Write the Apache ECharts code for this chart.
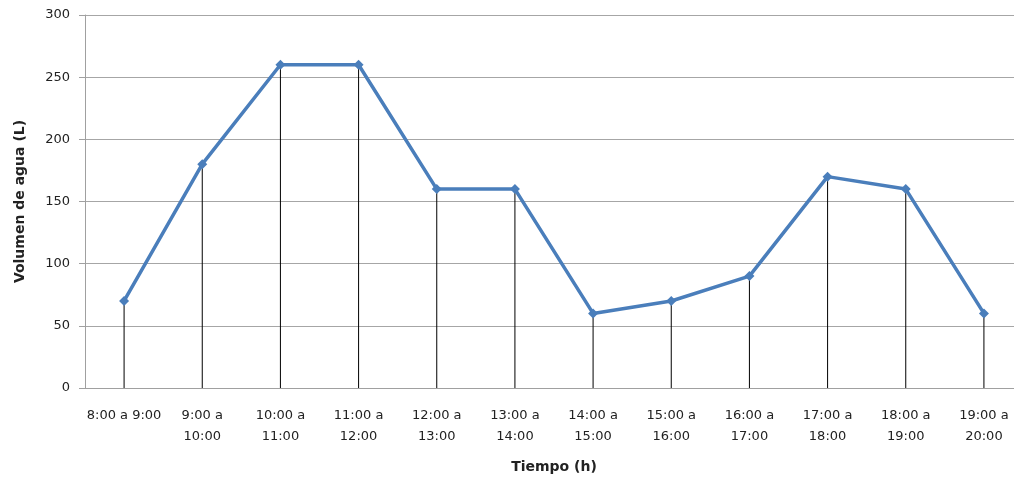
<!DOCTYPE html>
<html>
<head>
<meta charset="utf-8">
<script src="https://cdn.jsdelivr.net/npm/echarts@6/dist/echarts.min.js"></script>
<style>html,body{margin:0;padding:0;background:#fff;overflow:hidden;width:1014px;height:483px;}#c{width:1040px;height:483px;}</style>
</head>
<body>
<div id="c"></div>
<script>
const categories = ['8:00 a 9:00','9:00 a\n10:00','10:00 a\n11:00','11:00 a\n12:00','12:00 a\n13:00','13:00 a\n14:00','14:00 a\n15:00','15:00 a\n16:00','16:00 a\n17:00','17:00 a\n18:00','18:00 a\n19:00','19:00 a\n20:00'];
const volumes = [70, 180, 260, 260, 160, 160, 60, 70, 90, 170, 160, 60];
const yTicks = {min: 0, max: 300, interval: 50};
const xTitle = 'Tiempo (h)';
const yTitle = 'Volumen de agua (L)';

const chart = echarts.init(document.getElementById('c'), null, {renderer: 'canvas'});
const font = 'DejaVu Sans';
chart.setOption({
  animation: false,
  grid: {left: 85, top: 15, right: 17, bottom: 95, containLabel: false},
  xAxis: {
    type: 'category',
    data: categories,
    boundaryGap: true,
    axisLine: {show: true, lineStyle: {color: '#a0a0a0', width: 1}},
    axisTick: {show: false},
    axisLabel: {interval: 0, margin: 17, color: '#222', fontFamily: font, fontSize: 13, lineHeight: 21},
    name: xTitle,
    nameLocation: 'middle',
    nameGap: 72,
    nameTextStyle: {fontFamily: font, fontSize: 14, fontWeight: 'bold', color: '#222'}
  },
  yAxis: {
    type: 'value',
    min: yTicks.min, max: yTicks.max, interval: yTicks.interval,
    axisLine: {show: true, lineStyle: {color: '#a0a0a0', width: 1}},
    axisTick: {show: true, length: 6, lineStyle: {color: '#a0a0a0'}},
    splitLine: {show: true, lineStyle: {color: '#a6a6a6', width: 1}},
    axisLabel: {margin: 15, color: '#222', fontFamily: font, fontSize: 13},
    name: yTitle,
    nameLocation: 'middle',
    nameRotate: 90,
    nameGap: 58,
    nameTextStyle: {fontFamily: font, fontSize: 14, fontWeight: 'bold', color: '#222'}
  },
  series: [
    {
      type: 'bar',
      data: volumes,
      barWidth: 1,
      itemStyle: {color: '#000'},
      z: 1,
      silent: true
    },
    {
      type: 'line',
      data: volumes,
      lineStyle: {color: '#4a7ebb', width: 3.5},
      itemStyle: {color: '#4a7ebb'},
      symbol: 'path://M0,-1L1,0L0,1L-1,0Z',
      symbolSize: 10,
      showSymbol: true,
      z: 3
    }
  ]
});
</script>
</body>
</html>
